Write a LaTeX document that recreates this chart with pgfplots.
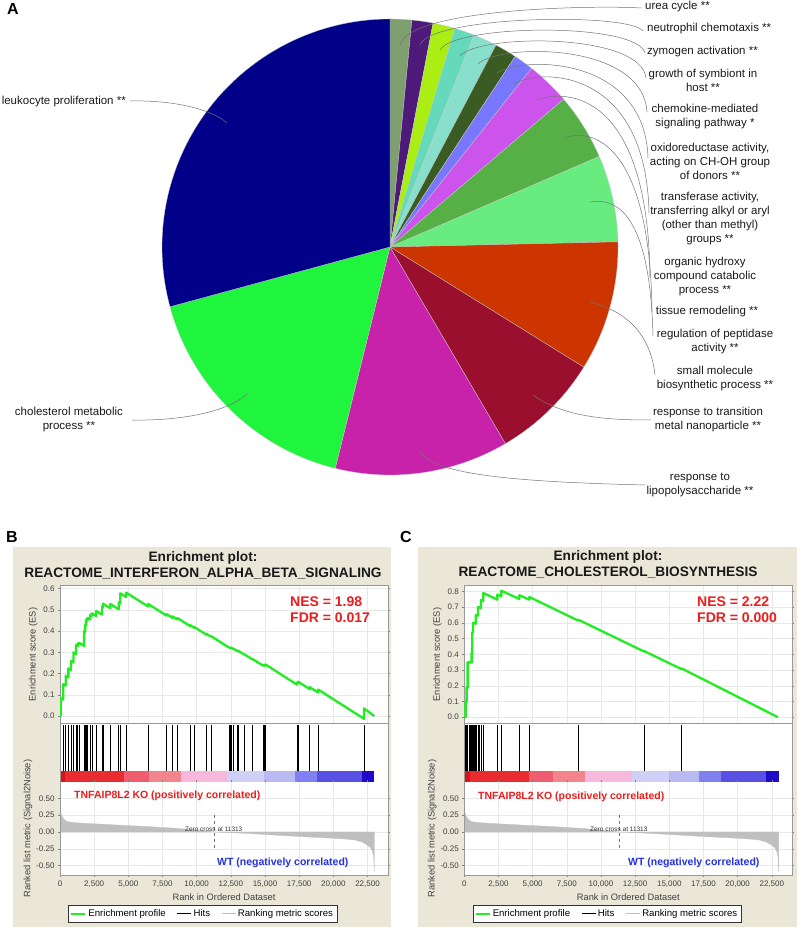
\documentclass[border=0pt]{standalone}
\usepackage{fontspec}
\setmainfont{Liberation Sans}
\usepackage{pgfplots}
\pgfplotsset{compat=1.18}

\definecolor{bgbeige}{RGB}{234,231,216}
\definecolor{esgreen}{RGB}{34,236,34}
\definecolor{nesred}{RGB}{238,28,28}
\definecolor{wtblue}{RGB}{36,50,220}
\definecolor{pUrea}{RGB}{126,160,110}
\definecolor{pNeut}{RGB}{78,26,122}
\definecolor{pZymo}{RGB}{170,238,20}
\definecolor{pGrow}{RGB}{100,218,186}
\definecolor{pChem}{RGB}{136,224,204}
\definecolor{pOxid}{RGB}{58,92,34}
\definecolor{pTran}{RGB}{120,120,255}
\definecolor{pOrga}{RGB}{204,84,236}
\definecolor{pTiss}{RGB}{86,176,70}
\definecolor{pRegu}{RGB}{104,236,128}
\definecolor{pSmal}{RGB}{204,52,0}
\definecolor{pMeta}{RGB}{154,14,46}
\definecolor{pLPS}{RGB}{200,34,170}
\definecolor{pChol}{RGB}{30,245,60}
\definecolor{pLeuk}{RGB}{0,0,136}
\definecolor{sep}{RGB}{200,200,200}
\definecolor{bA}{RGB}{214,20,26}
\definecolor{bB}{RGB}{234,44,48}
\definecolor{bC}{RGB}{240,92,112}
\definecolor{bD}{RGB}{242,132,140}
\definecolor{bE}{RGB}{248,184,222}
\definecolor{bF}{RGB}{208,208,246}
\definecolor{bG}{RGB}{186,186,242}
\definecolor{bH}{RGB}{128,128,240}
\definecolor{bI}{RGB}{88,80,226}
\definecolor{bJ}{RGB}{30,10,200}

\pgfplotsset{
  gsea/.style={scale only axis, width=328pt, xmin=0, xmax=24000,
    axis line style={draw=black!40}, tick align=outside, major tick length=2pt,
    tick style={draw=black!50, line width=0.4pt},
    tick label style={font=\fontsize{8}{9}\selectfont, text=black!75},
    label style={font=\fontsize{9.3}{10}\selectfont, text=black!75},
    grid=major, grid style={draw=black!9, line width=0.4pt},
    axis background/.style={fill=white},
    xtick={0,2500,5000,7500,10000,12500,15000,17500,20000,22500}},
  esaxis/.style={gsea, height=138pt, xticklabels={}, xtick style={draw=none},
    ylabel={Enrichment score (ES)},
    ylabel style={at={(axis description cs:-0.082,0.5)}, anchor=center}},
  hitsaxis/.style={scale only axis, width=328pt, height=59pt, xmin=0, xmax=24000,
    ymin=-11, ymax=48, axis line style={draw=none}, xtick=\empty, ytick=\empty,
    axis background/.style={fill=white}},
  metricaxis/.style={gsea, height=93pt, ymin=-0.642, ymax=0.746,
    axis line style={draw=none},
    ytick={-0.5,-0.25,0,0.25,0.5}, yticklabels={-0.50,-0.25,0.00,0.25,0.50},
    xticklabels={0,{2,500},{5,000},{7,500},{10,000},{12,500},{15,000},{17,500},{20,000},{22,500}},
    scaled x ticks=false,
    xlabel={Rank in Ordered Dataset},
    xlabel style={at={(axis description cs:0.5,-0.237)}, anchor=center},
    ylabel={Ranked list metric (Signal2Noise)},
    ylabel style={at={(axis description cs:-0.0976,0.5)}, anchor=center},
    legend style={at={(0.435,-0.414)}, anchor=center, legend columns=3,
      draw=black!80, fill=white, font=\fontsize{9.6}{11}\selectfont,
      inner xsep=2pt, inner ysep=2.5pt,
      /tikz/every even column/.append style={column sep=9pt}},
    legend cell align=left,
    legend image code/.code={\draw[#1] (0pt,0pt) -- (14pt,0pt);}},
  frameaxis/.style={scale only axis, width=328pt, height=152pt, xmin=0, xmax=1,
    ymin=0, ymax=1, xtick=\empty, ytick=\empty, axis line style={draw=black!40}}
}

\begin{document}
\begin{tikzpicture}
\useasboundingbox (0pt,0pt) rectangle (800pt,928pt);
\fill[bgbeige] (13pt,1pt) rectangle (391pt,381pt);
\fill[bgbeige] (418pt,1pt) rectangle (797pt,381pt);

%================ Panel A: pie ================
\begin{axis}[at={(390pt,681pt)}, anchor=center, scale only axis, width=456pt, height=456pt,
  xmin=-1, xmax=1, ymin=-1, ymax=1, hide axis, clip=false]
% shares (%): 1.5,1.5,1.6,1.4,1.7,1.6,1.4,3.1,4.7,6.1,9.2,7.7,12.3,16.9,29.2
\addplot[fill=pUrea, draw=sep, line width=0.3pt] coordinates {(0,0) (0.0958,0.9954)} arc[start angle=84.5, end angle=90, radius=228pt] -- cycle;
\addplot[fill=pNeut, draw=sep, line width=0.3pt] coordinates {(0,0) (0.1891,0.9820)} arc[start angle=79.1, end angle=84.5, radius=228pt] -- cycle;
\addplot[fill=pZymo, draw=sep, line width=0.3pt] coordinates {(0,0) (0.2840,0.9588)} arc[start angle=73.5, end angle=79.1, radius=228pt] -- cycle;
\addplot[fill=pGrow, draw=sep, line width=0.3pt] coordinates {(0,0) (0.3681,0.9298)} arc[start angle=68.4, end angle=73.5, radius=228pt] -- cycle;
\addplot[fill=pChem, draw=sep, line width=0.3pt] coordinates {(0,0) (0.4648,0.8854)} arc[start angle=62.3, end angle=68.4, radius=228pt] -- cycle;
\addplot[fill=pOxid, draw=sep, line width=0.3pt] coordinates {(0,0) (0.5490,0.8358)} arc[start angle=56.7, end angle=62.3, radius=228pt] -- cycle;
\addplot[fill=pTran, draw=sep, line width=0.3pt] coordinates {(0,0) (0.6212,0.7837)} arc[start angle=51.6, end angle=56.7, radius=228pt] -- cycle;
\addplot[fill=pOrga, draw=sep, line width=0.3pt] coordinates {(0,0) (0.7615,0.6481)} arc[start angle=40.4, end angle=51.6, radius=228pt] -- cycle;
\addplot[fill=pTiss, draw=sep, line width=0.3pt] coordinates {(0,0) (0.9178,0.3971)} arc[start angle=23.4, end angle=40.4, radius=228pt] -- cycle;
\addplot[fill=pRegu, draw=sep, line width=0.3pt] coordinates {(0,0) (0.9997,0.0227)} arc[start angle=1.3, end angle=23.4, radius=228pt] -- cycle;
\addplot[fill=pSmal, draw=sep, line width=0.3pt] coordinates {(0,0) (0.8499,-0.5270)} arc[start angle=-31.8, end angle=1.3, radius=228pt] -- cycle;
\addplot[fill=pMeta, draw=sep, line width=0.3pt] coordinates {(0,0) (0.5060,-0.8625)} arc[start angle=-59.6, end angle=-31.8, radius=228pt] -- cycle;
\addplot[fill=pLPS, draw=sep, line width=0.3pt] coordinates {(0,0) (-0.2402,-0.9707)} arc[start angle=-103.9, end angle=-59.6, radius=228pt] -- cycle;
\addplot[fill=pChol, draw=sep, line width=0.3pt] coordinates {(0,0) (-0.9650,-0.2622)} arc[start angle=-164.8, end angle=-103.9, radius=228pt] -- cycle;
\addplot[fill=pLeuk, draw=sep, line width=0.3pt] coordinates {(0,0) (0,1)} arc[start angle=-270, end angle=-164.8, radius=228pt] -- cycle;
\end{axis}

%================ Panel B ================
\begin{axis}[esaxis, at={(60pt,204.5pt)}, anchor=south west, ymin=-0.035, ymax=0.615,
  ytick={0,0.1,0.2,0.3,0.4,0.5,0.6}, yticklabels={0.0,0.1,0.2,0.3,0.4,0.5,0.6}]
\addplot[esgreen, line width=2.3pt, line join=round] coordinates {
(0,0)(49,0)(49,0.085)(245,0.077)(245,0.15)(417,0.143)(417,0.19)(613,0.182)(613,0.225)
(809,0.217)(809,0.26)(981,0.253)(981,0.30)(1177,0.292)(1177,0.335)(1300,0.330)(1300,0.342)
(1398,0.338)(1398,0.345)(1766,0.33)(1766,0.40)(1840,0.397)(1840,0.43)(1913,0.427)(1913,0.455)
(2011,0.451)(2011,0.463)(2208,0.455)(2208,0.477)(2330,0.472)(2330,0.484)(2649,0.471)(2649,0.495)
(3066,0.478)(3066,0.515)(3140,0.512)(3140,0.53)(3679,0.508)(3679,0.528)(4292,0.503)(4292,0.535)
(4415,0.530)(4415,0.578)(4832,0.561)(4832,0.582)(6451,0.516)(6451,0.528)(7800,0.473)(7800,0.480)
(8217,0.463)(8217,0.470)(8585,0.455)(8585,0.462)(9517,0.424)(9517,0.428)(9811,0.416)(9811,0.420)
(10719,0.383)(10719,0.387)(11038,0.374)(11038,0.377)(12387,0.322)(12387,0.324)(12460,0.321)(12460,0.323)
(12558,0.319)(12558,0.321)(12681,0.316)(12681,0.318)(12951,0.307)(12951,0.309)(13049,0.305)(13049,0.307)
(13490,0.289)(13490,0.291)(14103,0.266)(14103,0.268)(14839,0.238)(14839,0.242)(14962,0.237)(14962,0.241)
(15036,0.238)(15036,0.243)(17341,0.148)(17341,0.158)(17415,0.155)(17415,0.162)(18273,0.127)(18273,0.136)
(18886,0.111)(18886,0.125)(22247,-0.013)(22247,0.036)(23000,0.0)};
\end{axis}

\begin{axis}[hitsaxis, at={(60pt,146pt)}, anchor=south west]
\addplot[fill=bA, draw=none] coordinates {(0,-11)(400,-11)(400,0)(0,0)} -- cycle;
\addplot[fill=bB, draw=none] coordinates {(400,-11)(4700,-11)(4700,0)(400,0)} -- cycle;
\addplot[fill=bC, draw=none] coordinates {(4700,-11)(6500,-11)(6500,0)(4700,0)} -- cycle;
\addplot[fill=bD, draw=none] coordinates {(6500,-11)(8850,-11)(8850,0)(6500,0)} -- cycle;
\addplot[fill=bE, draw=none] coordinates {(8850,-11)(12250,-11)(12250,0)(8850,0)} -- cycle;
\addplot[fill=bF, draw=none] coordinates {(12250,-11)(14950,-11)(14950,0)(12250,0)} -- cycle;
\addplot[fill=bG, draw=none] coordinates {(14950,-11)(17200,-11)(17200,0)(14950,0)} -- cycle;
\addplot[fill=bH, draw=none] coordinates {(17200,-11)(18800,-11)(18800,0)(17200,0)} -- cycle;
\addplot[fill=bI, draw=none] coordinates {(18800,-11)(22100,-11)(22100,0)(18800,0)} -- cycle;
\addplot[fill=bJ, draw=none] coordinates {(22100,-11)(23000,-11)(23000,0)(22100,0)} -- cycle;
\addplot[ycomb, black, line width=0.6pt] coordinates {
(49,46)(245,46)(417,46)(613,46)(809,46)(981,46)(1177,46)(1300,46)(1398,46)(1766,46)(1840,46)
(1913,46)(2011,46)(2208,46)(2330,46)(2649,46)(3066,46)(3140,46)(3679,46)(4292,46)(4415,46)
(4832,46)(6451,46)(7800,46)(8217,46)(8585,46)(9517,46)(9811,46)(10719,46)(11038,46)(12387,46)
(12460,46)(12558,46)(12681,46)(12951,46)(13049,46)(13490,46)(14103,46)(14839,46)(14962,46)
(15036,46)(17341,46)(17415,46)(18273,46)(18886,46)(22247,46)};
\end{axis}

\begin{axis}[metricaxis, at={(60pt,53pt)}, anchor=south west]
\addlegendimage{esgreen, line width=2pt}
\addlegendentry{Enrichment profile}
\addlegendimage{black, line width=0.8pt}
\addlegendentry{Hits}
\addlegendimage{black!25, line width=0.8pt}
\addlegendentry{Ranking metric scores}
\addplot[fill=black!25, draw=black!25, line width=0.3pt, forget plot] coordinates {
(0,0)(0,0.34)(30,0.30)(100,0.25)(250,0.20)(500,0.155)(1000,0.14)(2000,0.127)(3000,0.117)
(4500,0.10)(6500,0.08)(8500,0.055)(10000,0.03)(11313,0)(12500,-0.01)(14000,-0.025)(16000,-0.05)
(17700,-0.07)(19000,-0.083)(20100,-0.095)(21000,-0.107)(21600,-0.12)(22100,-0.15)(22450,-0.19)
(22700,-0.23)(22850,-0.28)(22950,-0.36)(23000,-0.59)(23000,0)} -- cycle;
\addplot[black!55, dashed, line width=0.4pt, forget plot] coordinates {(11313,0.25)(11313,-0.27)};
\end{axis}
\begin{axis}[frameaxis, at={(60pt,53pt)}, anchor=south west]
\end{axis}

%================ Panel C ================
\begin{axis}[esaxis, at={(464.3pt,204.5pt)}, anchor=south west, ymin=-0.04, ymax=0.838,
  ytick={0,0.1,0.2,0.3,0.4,0.5,0.6,0.7,0.8}, yticklabels={0.0,0.1,0.2,0.3,0.4,0.5,0.6,0.7,0.8}]
\addplot[esgreen, line width=2.3pt, line join=round] coordinates {
(0,0)(98,0)(98,0.10)(171,0.097)(171,0.19)(244,0.187)(244,0.35)(342,0.346)(342,0.35)(415,0.347)(415,0.35)
(464,0.348)(464,0.35)(537,0.347)(537,0.41)(586,0.408)(586,0.54)(634,0.538)(634,0.60)(683,0.598)(683,0.60)
(756,0.597)(756,0.60)(830,0.594)(830,0.65)(903,0.647)(903,0.65)(1000,0.646)(1000,0.70)(1098,0.696)(1098,0.70)
(1220,0.695)(1220,0.745)(1391,0.738)(1391,0.79)(2416,0.748)(2416,0.78)(2709,0.768)(2709,0.805)
(4026,0.752)(4026,0.776)(4758,0.748)(4758,0.765)(8345,0.614)(8345,0.62)(13177,0.417)(13177,0.42)
(15910,0.305)(15910,0.31)(22950,0.0)};
\end{axis}

\begin{axis}[hitsaxis, at={(464.3pt,146pt)}, anchor=south west]
\addplot[fill=bA, draw=none] coordinates {(0,-11)(400,-11)(400,0)(0,0)} -- cycle;
\addplot[fill=bB, draw=none] coordinates {(400,-11)(4700,-11)(4700,0)(400,0)} -- cycle;
\addplot[fill=bC, draw=none] coordinates {(4700,-11)(6500,-11)(6500,0)(4700,0)} -- cycle;
\addplot[fill=bD, draw=none] coordinates {(6500,-11)(8850,-11)(8850,0)(6500,0)} -- cycle;
\addplot[fill=bE, draw=none] coordinates {(8850,-11)(12250,-11)(12250,0)(8850,0)} -- cycle;
\addplot[fill=bF, draw=none] coordinates {(12250,-11)(14950,-11)(14950,0)(12250,0)} -- cycle;
\addplot[fill=bG, draw=none] coordinates {(14950,-11)(17200,-11)(17200,0)(14950,0)} -- cycle;
\addplot[fill=bH, draw=none] coordinates {(17200,-11)(18800,-11)(18800,0)(17200,0)} -- cycle;
\addplot[fill=bI, draw=none] coordinates {(18800,-11)(22100,-11)(22100,0)(18800,0)} -- cycle;
\addplot[fill=bJ, draw=none] coordinates {(22100,-11)(23000,-11)(23000,0)(22100,0)} -- cycle;
\addplot[ycomb, black, line width=0.6pt] coordinates {
(98,46)(171,46)(244,46)(342,46)(415,46)(464,46)(537,46)(586,46)(634,46)(683,46)(756,46)(830,46)
(903,46)(1000,46)(1098,46)(1220,46)(1391,46)(2416,46)(2709,46)(4026,46)(4758,46)(8345,46)
(13177,46)(15910,46)};
\end{axis}

\begin{axis}[metricaxis, at={(464.3pt,53pt)}, anchor=south west]
\addlegendimage{esgreen, line width=2pt}
\addlegendentry{Enrichment profile}
\addlegendimage{black, line width=0.8pt}
\addlegendentry{Hits}
\addlegendimage{black!25, line width=0.8pt}
\addlegendentry{Ranking metric scores}
\addplot[fill=black!25, draw=black!25, line width=0.3pt, forget plot] coordinates {
(0,0)(0,0.34)(30,0.30)(100,0.25)(250,0.20)(500,0.155)(1000,0.14)(2000,0.127)(3000,0.117)
(4500,0.10)(6500,0.08)(8500,0.055)(10000,0.03)(11313,0)(12500,-0.01)(14000,-0.025)(16000,-0.05)
(17700,-0.07)(19000,-0.083)(20100,-0.095)(21000,-0.107)(21600,-0.12)(22100,-0.15)(22450,-0.19)
(22700,-0.23)(22850,-0.28)(22950,-0.36)(23000,-0.59)(23000,0)} -- cycle;
\addplot[black!55, dashed, line width=0.4pt, forget plot] coordinates {(11313,0.25)(11313,-0.27)};
\end{axis}
\begin{axis}[frameaxis, at={(464.3pt,53pt)}, anchor=south west]
\end{axis}

%================ Texts and leader lines (page pixel coordinates, y down) ================
\begin{scope}[x=1pt, y=-1pt, shift={(0pt,928pt)}]
\tikzset{lbl/.style={font=\fontsize{11.5}{14}\selectfont, text=black!90, align=center, inner sep=0pt},
  lead/.style={draw=black!55, line width=0.5pt}}
% leader lines
\draw[lead] (400,45) .. controls (408,9) and (590,5) .. (641,8);
\draw[lead] (420,45) .. controls (430,16) and (628,12) .. (643,31);
\draw[lead] (440,50) .. controls (455,24) and (637,22) .. (645,53);
\draw[lead] (460,56) .. controls (478,34) and (641,32) .. (646,78);
\draw[lead] (478,64) .. controls (500,43) and (643,42) .. (647,112);
\draw[lead] (497,73) .. controls (522,56) and (645,55) .. (648,158);
\draw[lead] (514,84) .. controls (540,68) and (646,67) .. (649,213);
\draw[lead] (537,100) .. controls (565,89) and (648,90) .. (650,277);
\draw[lead] (565,138) .. controls (590,128) and (650,140) .. (652,312);
\draw[lead] (590,202) .. controls (617,197) and (650,215) .. (653,336);
\draw[lead] (590,302) .. controls (622,310) and (650,330) .. (655,375);
\draw[lead] (533,395) .. controls (565,418) and (610,420) .. (651,420);
\draw[lead] (420,450) .. controls (428,475) and (520,482) .. (645,485);
\draw[lead] (247,394) .. controls (228,412) and (180,421) .. (132,420);
\draw[lead] (227,123) .. controls (210,108) and (170,100) .. (130,101);
% pie labels
\node[lbl, anchor=west] at (645,7) {urea cycle **};
\node[lbl, anchor=west] at (647,29) {neutrophil chemotaxis **};
\node[lbl, anchor=west] at (647,52) {zymogen activation **};
\node[lbl] at (703,80) {growth of symbiont in\\host **};
\node[lbl] at (705,117) {chemokine-mediated\\signaling pathway *};
\node[lbl] at (710,161) {oxidoreductase activity,\\acting on CH-OH group\\of donors **};
\node[lbl] at (710,219) {transferase activity,\\transferring alkyl or aryl\\(other than methyl)\\groups **};
\node[lbl] at (705,277) {organic hydroxy\\compound catabolic\\process **};
\node[lbl] at (707,312) {tissue remodeling **};
\node[lbl] at (715,342) {regulation of peptidase\\activity **};
\node[lbl] at (715,379) {small molecule\\biosynthetic process **};
\node[lbl] at (708,420) {response to transition\\metal nanoparticle **};
\node[lbl] at (700,485) {response to\\lipopolysaccharide **};
\node[lbl] at (69,420) {cholesterol metabolic\\process **};
\node[lbl, anchor=east] at (126,102) {leukocyte proliferation **};
% panel letters
\node[font=\fontsize{16}{16}\selectfont\bfseries, inner sep=0pt] at (13,9) {A};
\node[font=\fontsize{16}{16}\selectfont\bfseries, inner sep=0pt] at (12,537) {B};
\node[font=\fontsize{16}{16}\selectfont\bfseries, inner sep=0pt] at (406,537) {C};
% titles
\node[font=\fontsize{13.7}{16}\selectfont\bfseries, align=center, inner sep=0pt, text=black!90] at (203,565) {Enrichment plot:\\REACTOME\_INTERFERON\_ALPHA\_BETA\_SIGNALING};
\node[font=\fontsize{13.7}{16}\selectfont\bfseries, align=center, inner sep=0pt, text=black!90] at (608,564) {Enrichment plot:\\REACTOME\_CHOLESTEROL\_BIOSYNTHESIS};
% NES / FDR
\node[font=\fontsize{14}{16}\selectfont\bfseries, text=nesred, anchor=west, inner sep=0pt] at (290,602) {NES = 1.98};
\node[font=\fontsize{14}{16}\selectfont\bfseries, text=nesred, anchor=west, inner sep=0pt] at (290,618) {FDR = 0.017};
\node[font=\fontsize{14}{16}\selectfont\bfseries, text=nesred, anchor=west, inner sep=0pt] at (697,602) {NES = 2.22};
\node[font=\fontsize{14}{16}\selectfont\bfseries, text=nesred, anchor=west, inner sep=0pt] at (697,618) {FDR = 0.000};
% correlation labels
\node[font=\fontsize{10.5}{12}\selectfont\bfseries, text=nesred, anchor=west, inner sep=0pt] at (74,796) {TNFAIP8L2 KO (positively correlated)};
\node[font=\fontsize{10.5}{12}\selectfont\bfseries, text=wtblue, anchor=west, inner sep=0pt] at (217,863) {WT (negatively correlated)};
\node[font=\fontsize{10.5}{12}\selectfont\bfseries, text=nesred, anchor=west, inner sep=0pt] at (478,797) {TNFAIP8L2 KO (positively correlated)};
\node[font=\fontsize{10.5}{12}\selectfont\bfseries, text=wtblue, anchor=west, inner sep=0pt] at (628,863) {WT (negatively correlated)};
% zero cross
\node[font=\fontsize{6.5}{7}\selectfont, text=black!80, inner sep=0pt] at (213.7,829) {Zero cross at 11313};
\node[font=\fontsize{6.5}{7}\selectfont, text=black!80, inner sep=0pt] at (618.8,829) {Zero cross at 11313};
\end{scope}
\end{tikzpicture}
\end{document}
